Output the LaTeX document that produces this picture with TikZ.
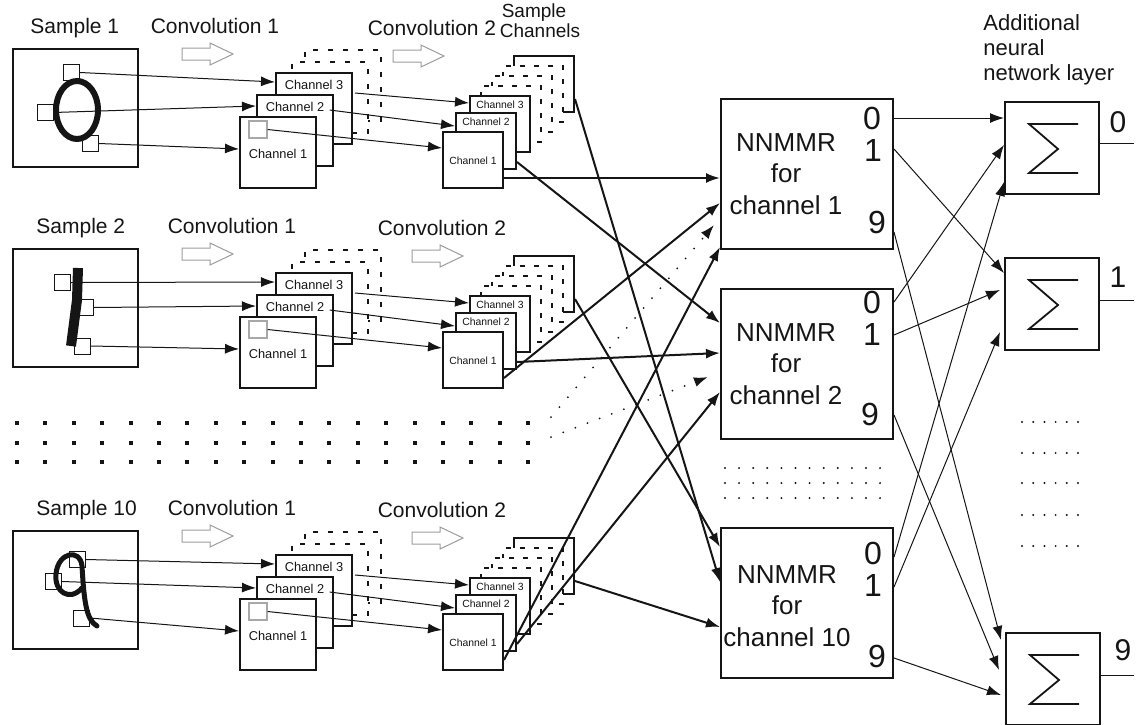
\documentclass[tikz,border=0pt]{standalone}
\usepackage{fontspec}
\setmainfont{Liberation Sans}
\usetikzlibrary{arrows.meta,calc}
\definecolor{ink}{HTML}{151515}
\definecolor{hollowgray}{HTML}{9C9C9C}
\definecolor{probegray}{HTML}{A8A8A8}
\tikzset{
  >={Latex[length=7pt,width=5pt]},
  lab/.style={font=\fontsize{10.5}{12.5}\selectfont, text=ink, inner sep=0pt},
  smp/.style={draw=ink, line width=1pt, anchor=north west, inner sep=0pt, minimum width=62.5pt, minimum height=59pt},
  probe/.style={draw=ink, line width=0.5pt, inner sep=0pt, minimum size=8pt},
  probeg/.style={draw=probegray, line width=0.6pt, inner sep=0pt, minimum width=9pt, minimum height=8.5pt},
  glyph/.style={draw=ink, line cap=round},
  chA/.style={draw=ink, fill=white, line width=1pt, anchor=north west, inner sep=0pt, minimum width=38pt, minimum height=35.5pt},
  chB/.style={chA, minimum width=30pt, minimum height=28pt},
  ghostA/.style={dash pattern=on 2.5pt off 5pt},
  ghostB/.style={dash pattern=on 2.5pt off 4.5pt},
  chlabA/.style={font=\fontsize{6.4}{7}\selectfont, text=ink, inner sep=0pt},
  chlabB/.style={font=\fontsize{5.2}{6}\selectfont, text=ink, inner sep=0pt},
  feed/.style={->, draw=ink, line width=0.5pt},
  trunk/.style={->, draw=ink, line width=1pt},
  dotfeed/.style={->, draw=ink, line width=1pt, line cap=round, dash pattern=on 0pt off 6.5pt},
  nnbox/.style={draw=ink, line width=1pt, anchor=north west, inner sep=0pt, minimum width=86pt, minimum height=75pt},
  nnlab/.style={font=\fontsize{13}{15.75}\selectfont, align=center, text=ink, inner sep=0pt},
  dig/.style={font=\fontsize{16}{16}\selectfont, text=ink, inner sep=0pt},
  sumbox/.style={draw=ink, line width=1pt, anchor=north west, inner sep=0pt, minimum width=47pt, minimum height=46pt,
    path picture={\draw[line width=0.9pt, line join=miter] ([xshift=13pt,yshift=12pt]path picture bounding box.center)
      -- ++(-49,0) -- ++(29,25) -- ++(-29,24) -- ++(49,0);}},
  fatarrow/.pic={\draw[hollowgray, line width=0.5pt] (0,-6) -- (28,-6) -- (28,-11) -- (51,0) -- (28,11) -- (28,6) -- (0,6) -- cycle;},
}

\begin{document}
\begin{tikzpicture}[x=0.5pt, y=-0.5pt]
\useasboundingbox (0,0) rectangle (1136,724);

% ---------------- headers ----------------
\node[lab, font=\fontsize{9.5}{11}\selectfont, anchor=base] (hs1) at (534,17) {Sample};
\node[lab, font=\fontsize{9.5}{11}\selectfont, anchor=base] (hs2) at (540,37) {Channels};
\node[lab, font=\fontsize{11}{12.5}\selectfont, anchor=base west] (ha1) at (983,30) {Additional};
\node[lab, font=\fontsize{11}{12.5}\selectfont, anchor=base west] (ha2) at (983,55) {neural};
\node[lab, font=\fontsize{11}{12.5}\selectfont, anchor=base west] (ha3) at (983,80) {network layer};

% ---------------- NNMMR blocks ----------------
\node[nnbox] (n1) at (720,98) {};
\node[nnbox] (n2) at (720,288) {};
\node[nnbox] (n10) at (720,527) {};
\node[nnlab] (n1t) at (786,174) {NNMMR\\for\\channel 1};
\node[nnlab] (n2t) at (786,364) {NNMMR\\for\\channel 2};
\node[nnlab] (n10t) at (787,606) {NNMMR\\for\\channel 10};
\node[dig] (n1d0) at (872,118) {0};
\node[dig] (n1d1) at (873,150) {1};
\node[dig] (n1d9) at (877,222) {9};
\node[dig] (n2d0) at (872,302) {0};
\node[dig] (n2d1) at (872,334) {1};
\node[dig] (n2d9) at (870,414) {9};
\node[dig] (n10d0) at (873,553) {0};
\node[dig] (n10d1) at (873,585) {1};
\node[dig] (n10d9) at (877,656) {9};

% ---------------- additional layer ----------------
\node[sumbox] (z0) at (1004,101) {};
\node[sumbox] (z1) at (1004,257) {};
\node[sumbox] (z9) at (1005,632) {};
\coordinate (o0) at (1134,143);
\coordinate (o1) at (1134,300);
\coordinate (o9) at (1134,675);
\draw[ink, line width=0.5pt] (z0.east |- o0) -- (o0);
\draw[ink, line width=0.5pt] (z1.east |- o1) -- (o1);
\draw[ink, line width=0.5pt] (z9.east |- o9) -- (o9);
\node[dig, font=\fontsize{15}{15}\selectfont] (z0l) at (1118,122) {0};
\node[dig, font=\fontsize{15}{15}\selectfont] (z1l) at (1118,277) {1};
\node[dig, font=\fontsize{15}{15}\selectfont] (z9l) at (1123,650) {9};

% ---------------- one row per sample ----------------
\foreach \r/\off/\sx/\cx/\ax/\vx/\ia/\ib/\ic in {1/0/30/215/393/432/80/35/55, 2/200/36/232/412/442/105/65/20, 10/482/36/232/412/442/149/104/100} {
  \node[lab, anchor=base west] (sl-\r) at (\sx,33+\off) {Sample \r};
  \node[smp] (sb-\r) at (12,48+\off) {};
  \node[lab, anchor=base] (cl1-\r) at (\cx,33+\off) {Convolution 1};
  \node[lab, anchor=base] (cl2-\r) at (\vx,35+\off) {Convolution 2};
  \pic at (182,54+\off) {fatarrow};
  \pic at (\ax,56+\off) {fatarrow};
  % first convolution, back to front
  \node[chA, ghostA] (c5-\r) at (304,49+\off) {};
  \node[chA, ghostA] (c4-\r) at (291,61+\off) {};
  \node[chA] (c3-\r) at (275,72+\off) {};
  \node[chA] (c2-\r) at (256,94+\off) {};
  \node[chA] (c1-\r) at (239,116+\off) {};
  \node[chlabA] (t3-\r) at ($(c3-\r.north)+(0,13)$) {Channel 3};
  \node[chlabA] (t2-\r) at ($(c2-\r.north)+(0,13)$) {Channel 2};
  \node[chlabA] (t1-\r) at ($(c1-\r.center)+(0,1)$) {Channel 1};
  \node[probeg] (g-\r) at ($(c1-\r.north west)+(19,13.5)$) {};
  % second convolution, back to front
  \node[chB] (d7-\r) at (513,55+\off) {};
  \node[chB, ghostB] (d6-\r) at (502,65+\off) {};
  \node[chB, ghostB] (d5-\r) at (491,75+\off) {};
  \node[chB, ghostB] (d4-\r) at (480,85+\off) {};
  \node[chB] (d3-\r) at (469,95+\off) {};
  \node[chB] (d2-\r) at (455,112+\off) {};
  \node[chB] (d1-\r) at (442,131+\off) {};
  \node[chlabB] (u3-\r) at ($(d3-\r.north)+(0,10)$) {Channel 3};
  \node[chlabB] (u2-\r) at ($(d2-\r.north)+(0,10)$) {Channel 2};
  \node[chlabB] (u1-\r) at ($(d1-\r.center)+(0,1)$) {Channel 1};
  \draw[feed] ($(c3-\r.north east)+(2,21)$) -- ($(d3-\r.north west)+(0,8)$);
  \draw[feed] ($(t2-\r.east)+(5,3)$) -- ($(d2-\r.north west)+(0,14)$);
  \draw[feed] (g-\r.east) -- ($(d1-\r.north west)+(0,17)$);
  % channel k of every sample goes to the NNMMR of channel k
  \draw[trunk] ($(d1-\r.north east)+(0,47)$) -- ($(n1.north west)+(0,\ia)$);
  \draw[trunk] ($(d2-\r.north east)+(0,50)$) -- ($(n2.north west)+(0,\ib)$);
  \draw[trunk] ($(d7-\r.north east)+(0,44)$) -- ($(n10.north west)+(0,\ic)$);
}

% ---------------- the samples ----------------
\draw[glyph, line width=3pt] (77,110) ellipse [x radius=21, y radius=29];
\node[probe] (q1-1) at (71.5,72.5) {};
\node[probe] (q2-1) at (45,112.5) {};
\node[probe] (q3-1) at (90.5,143.5) {};
\draw[glyph, line width=5pt, line cap=butt] (78,268) -- (77,300) -- (71,346);
\node[probe] (q1-2) at (62,282.5) {};
\node[probe] (q2-2) at (85.5,307.5) {};
\node[probe] (q3-2) at (82.5,346) {};
\draw[glyph, line width=2.5pt] (82,588) .. controls (70,602) and (54,592) .. (56,574)
  .. controls (58,552) and (80,548) .. (82,566) .. controls (84,600) and (86,620) .. (97,626);
\node[probe] (q1-10) at (77.5,559.5) {};
\node[probe] (q2-10) at (53.5,581.5) {};
\node[probe] (q3-10) at (81.5,618) {};
\foreach \r in {1,2,10} {
  \draw[feed] (q1-\r.east) -- ($(c3-\r.north west)+(0,10)$);
  \draw[feed] (q2-\r.east) -- ($(c2-\r.north west)+(0,12)$);
  \draw[feed] (q3-\r.east) -- ($(c1-\r.north west)+(0,33)$);
}

% ---------------- omitted samples and channels ----------------
\foreach \i in {0,...,18} \foreach \j in {0,1,2}
  \fill[ink] ({15+28.4*\i},{421+19.5*\j}) rectangle ++(4,4);
\coordinate (dt1) at (551,417);
\coordinate (dt2) at (551,437);
\draw[dotfeed] (dt1) -- ($(n1.north west)+(-6,127)$);
\draw[dotfeed] (dt2) -- ($(n2.north west)+(-12,89)$);
\foreach \i in {0,...,11} \foreach \j in {0,1,2}
  \fill[ink] ({725+14.1*\i},{468+15*\j}) circle (0.55pt);
\foreach \i in {0,...,5} \foreach \yy in {422,453,483,515,546}
  \fill[ink] ({1022+11.2*\i},\yy) circle (0.55pt);

% ---------------- NNMMR outputs into the sums ----------------
\draw[feed] ($(n1.north east)+(0,20)$) -- ($(z0.north west)+(0,17)$);
\draw[feed] ($(n1.north east)+(0,51)$) -- ($(z1.north west)+(0,16)$);
\draw[feed] ($(n1.north east)+(0,134)$) -- ($(z9.north west)+(-4,8)$);
\draw[feed] ($(n2.north east)+(0,14)$) -- ($(z0.north west)+(0,44)$);
\draw[feed] ($(n2.north east)+(0,47)$) -- ($(z1.north west)+(-4,33)$);
\draw[feed] ($(n2.north east)+(0,127)$) -- ($(z9.north west)+(-6,38)$);
\draw[feed] ($(n10.north east)+(0,30)$) -- ($(z0.north west)+(0,81)$);
\draw[feed] ($(n10.north east)+(0,60)$) -- ($(z1.north west)+(-4,75)$);
\draw[feed] ($(n10.north east)+(0,131)$) -- ($(z9.north west)+(-4,63)$);

\end{tikzpicture}
\end{document}
